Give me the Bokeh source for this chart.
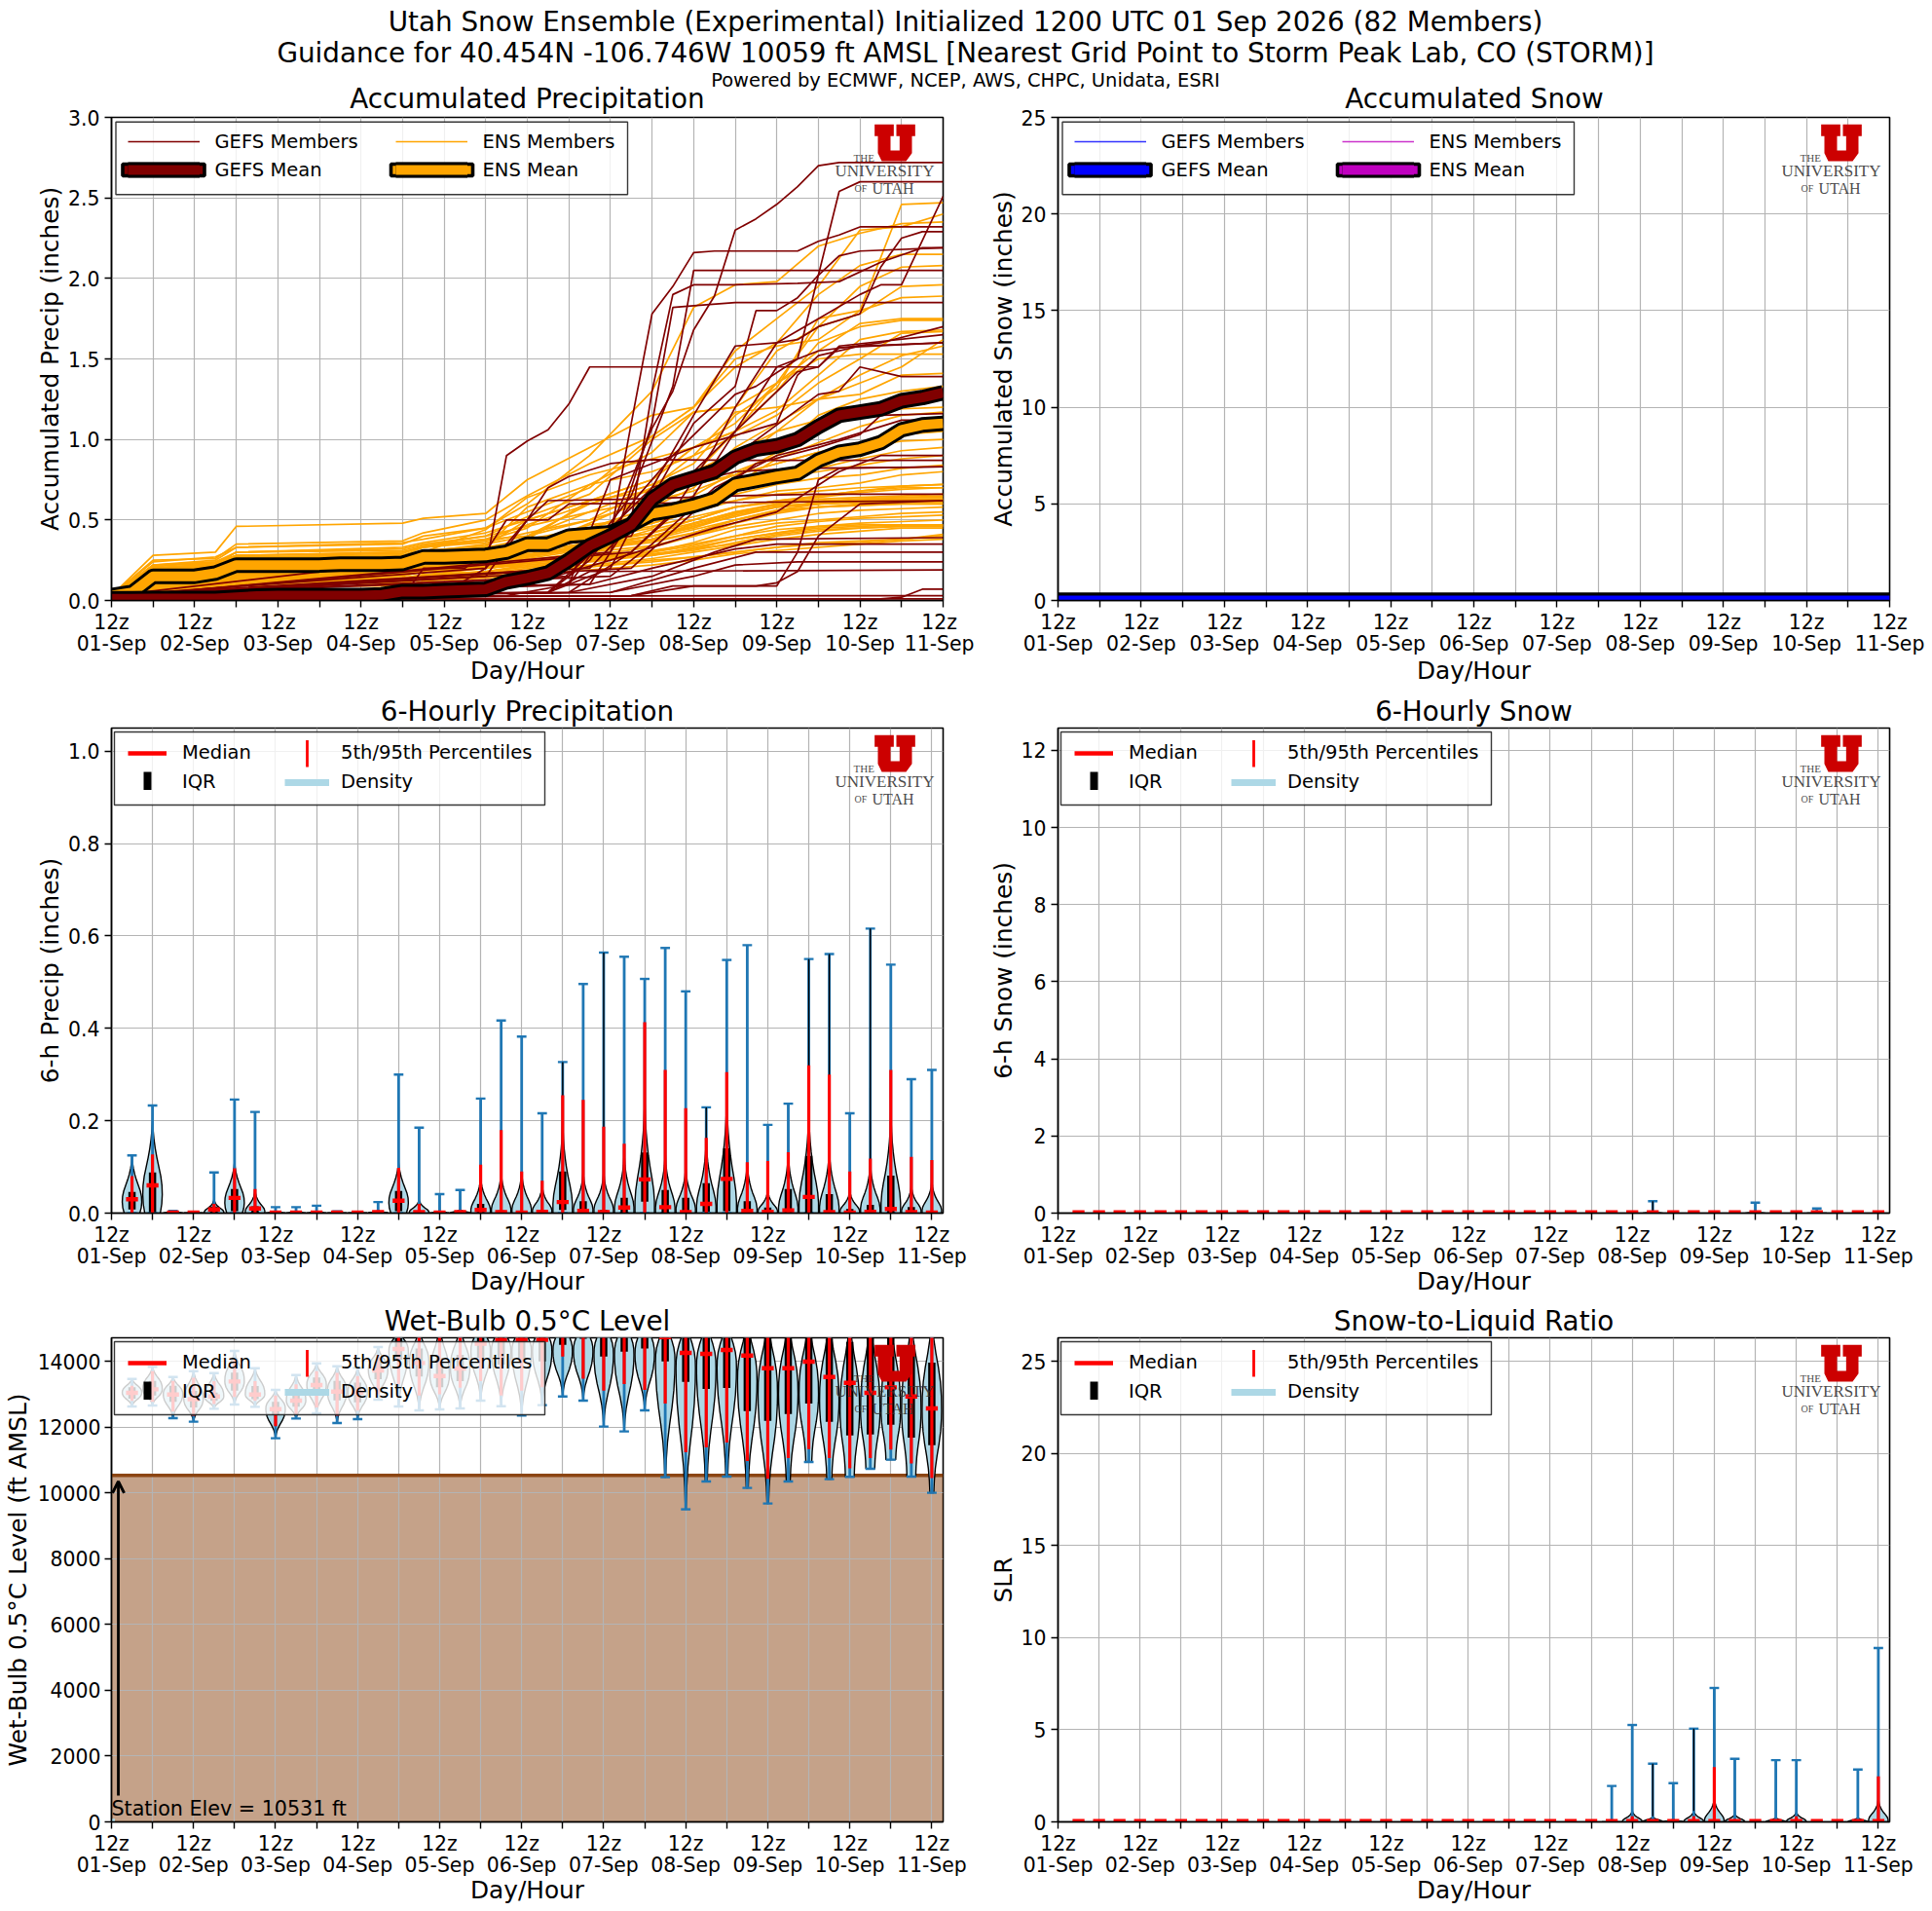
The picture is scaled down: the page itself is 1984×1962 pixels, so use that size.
from bokeh.plotting import figure
from bokeh.layouts import column, row
from bokeh.embed import file_html
from bokeh.resources import INLINE
from bokeh.models import (Range1d, FixedTicker, Label, Legend, LegendItem, BoxAnnotation, Title,
                          PolyAnnotation, Arrow, OpenHead, NumeralTickFormatter)

SUPTITLE_1 = "Utah Snow Ensemble (Experimental) Initialized 1200 UTC 01 Sep 2026 (82 Members)"
SUPTITLE_2 = "Guidance for 40.454N -106.746W 10059 ft AMSL [Nearest Grid Point to Storm Peak Lab, CO (STORM)]"
SUPTITLE_3 = "Powered by ECMWF, NCEP, AWS, CHPC, Unidata, ESRI"
DAY_LABELS = ["01-Sep", "02-Sep", "03-Sep", "04-Sep", "05-Sep", "06-Sep", "07-Sep", "08-Sep", "09-Sep", "10-Sep", "11-Sep"]

HOURS = [6 * i for i in range(41)]
V_HOURS = HOURS[1:]

GEFS_MEAN = [.01, .01, .012, .012, .012, .012, .02, .027, .03, .03, .03, .03, .03, .035, .055, .055, .06, .065, .07, .116, .14, .17,
             .25, .34, .40, .47, .63, .72, .76, .80, .89, .94, .96, 1.0, 1.08, 1.15, 1.17, 1.19, 1.24, 1.26, 1.29]
ENS_MEAN = [.03, .05, .15, .15, .15, .17, .22, .22, .22, .22, .22, .225, .225, .225, .23, .27, .27, .275, .28, .30, .35, .35,
            .40, .41, .42, .47, .54, .56, .59, .63, .72, .745, .77, .79, .87, .92, .94, .98, 1.06, 1.09, 1.10]

GEFS_MEMBERS = [
    [(0,.03),(36,.03),(96,.05),(108,.2),(114,.9),(120,.99),(126,1.06),(132,1.22),(138,1.45),(204,1.45),(210,1.57),(240,1.6)],
    [(0,.02),(114,.03),(132,.1),(144,.45),(150,.75),(156,1.07),(162,1.3),(168,1.68),(174,1.89),(180,2.3),(186,2.37),(192,2.46),(198,2.57),(204,2.7),(210,2.72),(240,2.72)],
    [(0,.02),(126,.05),(138,.25),(150,.6),(162,.9),(180,1.28),(186,1.33),(198,1.5),(204,2.02),(210,2.54),(216,2.6),(240,2.6)],
    [(0,.02),(132,.05),(150,.3),(162,.55),(174,.95),(180,1.2),(192,1.6),(204,1.75),(216,1.9),(222,1.96),(228,1.96),(240,2.51)],
    [(0,.02),(126,.05),(144,.2),(156,.7),(168,1.15),(180,1.58),(192,1.6),(198,1.62),(204,1.7),(216,1.78),(222,2.07),(228,2.25),(234,2.29),(240,2.29)],
    [(0,.02),(138,.1),(150,.5),(156,1.3),(162,1.9),(168,1.96),(180,1.96),(198,1.97),(210,1.98),(222,2.1),(234,2.19),(240,2.19)],
    [(0,.02),(126,.05),(144,.4),(150,1.1),(156,1.78),(162,1.95),(168,2.16),(174,2.17),(198,2.17),(204,2.23),(210,2.27),(216,2.32),(240,2.32)],
    [(0,.03),(132,.15),(150,.65),(162,1.33),(168,2.05),(240,2.05)],
    [(0,.02),(144,.3),(156,1.1),(162,1.82),(168,1.83),(180,1.85),(240,1.85)],
    [(0,.03),(150,.4),(168,1.1),(180,1.33),(186,1.8),(192,1.8),(198,1.88),(204,2.02),(210,2.14),(216,2.17),(240,2.19)],
    [(0,.03),(138,.2),(156,.6),(168,.8),(180,1.05),(192,1.45),(204,1.55),(222,1.6),(240,1.7)],
    [(0,.02),(150,.3),(168,.65),(180,1.05),(198,1.42),(204,1.45),(210,1.58),(240,1.65)],
    [(0,.03),(132,.2),(156,.7),(180,.9),(204,1.28),(210,1.3),(216,1.45),(228,1.39),(240,1.39)],
    [(0,.02),(132,.1),(144,.75),(168,.95),(192,1.1),(198,1.4),(204,1.52),(216,1.58),(240,1.6)],
    [(0,.02),(150,.2),(168,.55),(186,.85),(204,.95),(216,1.03),(222,1.15),(240,1.16)],
    [(0,.03),(144,.15),(156,.35),(174,.7),(192,.9),(210,1.0),(228,1.12),(240,1.12)],
    [(0,.03),(108,.2),(120,.5),(126,.7),(132,.77),(144,.85),(156,.875),(186,.87),(204,.87),(240,.87)],
    [(0,.02),(132,.2),(150,.45),(162,.7),(180,.8),(198,.82),(240,.83)],
    [(0,.02),(120,.1),(144,.25),(174,.45),(192,.55),(210,.8),(222,.9),(240,.9)],
    [(0,.03),(108,.15),(120,.5),(126,.62),(150,.63),(180,.65),(204,.66),(240,.66)],
    [(0,.02),(132,.05),(156,.15),(174,.3),(186,.38),(240,.39)],
    [(0,.02),(138,.1),(156,.2),(180,.32),(192,.35),(240,.35)],
    [(0,.03),(144,.05),(168,.2),(186,.3),(240,.3)],
    [(0,.02),(144,.05),(168,.15),(180,.22),(198,.24),(240,.24)],
    [(0,.02),(126,.05),(138,.18),(240,.19)],
    [(0,.0),(78,.0),(84,.02),(90,.2),(102,.2),(108,.3),(114,.5),(126,.5),(132,.6),(240,.62)],
    [(0,.01),(150,.03),(162,.09),(186,.09),(192,.11),(198,.18),(204,.4),(216,.6),(240,.62)],
    [(0,.01),(150,.03),(168,.09),(192,.09),(198,.3),(204,.75),(210,.82),(240,.83)],
    [(0,.01),(222,.01),(228,.02),(234,.07),(240,.07)],
    [(0,.01),(240,.01)],
    [(0,.02),(186,.03),(240,.03)],
]

ENS_HOURS = [0, 12, 30, 36, 84, 90, 108, 120, 138, 156, 168, 180, 192, 204, 216, 228, 240]
ENS_MEMBERS = [
    [.03,.28,.30,.46,.48,.51,.54,.75,.95,1.15,1.20,1.50,1.58,1.62,1.80,2.46,2.47],
    [.03,.25,.26,.35,.37,.42,.50,.65,.85,1.02,1.20,1.55,1.75,1.95,2.30,2.32,2.40],
    [.03,.24,.27,.33,.35,.40,.45,.60,.90,1.30,1.82,1.96,1.98,2.20,2.28,2.34,2.35],
    [.03,.22,.25,.33,.36,.38,.45,.55,.70,1.02,1.20,1.45,1.60,1.90,2.08,2.15,2.15],
    [.03,.22,.23,.30,.33,.36,.42,.50,.62,.75,.95,1.10,1.35,1.70,1.95,2.07,2.08],
    [.03,.20,.22,.30,.32,.35,.40,.52,.66,1.00,1.17,1.20,1.55,1.70,1.78,1.95,1.96],
    [.03,.19,.21,.28,.30,.33,.38,.47,.60,.72,.85,1.15,1.32,1.75,1.80,1.88,1.89],
    [.03,.18,.21,.26,.28,.33,.37,.45,.72,.92,1.17,1.20,1.35,1.55,1.72,1.75,1.75],
    [.03,.22,.24,.30,.31,.34,.38,.40,.55,.70,.78,1.05,1.30,1.60,1.70,1.74,1.74],
    [.03,.17,.20,.25,.27,.30,.44,.64,.78,.88,.95,1.05,1.18,1.40,1.62,1.67,1.68],
    [.03,.16,.19,.24,.26,.30,.35,.40,.50,.70,.90,1.02,1.15,1.35,1.50,1.66,1.67],
    [.03,.15,.18,.23,.25,.28,.33,.58,.72,.80,.90,1.17,1.20,1.25,1.35,1.45,1.62],
    [.03,.20,.23,.28,.29,.34,.40,.46,.55,.62,.72,.85,1.05,1.25,1.40,1.52,1.58],
    [.03,.14,.17,.22,.24,.26,.30,.38,.62,.75,.95,1.05,1.35,1.50,1.53,1.53,1.53],
    [.03,.13,.16,.21,.23,.25,.28,.35,.45,.58,.70,.95,1.10,1.25,1.28,1.40,1.41],
    [.03,.21,.24,.28,.30,.33,.36,.42,.50,.62,.68,.78,.92,1.15,1.25,1.30,1.33],
    [.03,.18,.21,.26,.27,.30,.33,.38,.45,.55,.65,.80,.90,1.05,1.18,1.24,1.25],
    [.03,.12,.15,.20,.21,.24,.27,.40,.60,.72,.80,.92,1.05,1.12,1.16,1.19,1.20],
    [.03,.16,.19,.24,.25,.27,.31,.36,.42,.50,.62,.72,.88,.98,1.08,1.15,1.17],
    [.03,.11,.14,.18,.19,.22,.26,.32,.48,.65,.72,.78,.85,.92,.98,1.03,1.05],
    [.03,.19,.22,.27,.28,.31,.34,.50,.62,.68,.72,.78,.85,.92,.95,.99,1.00],
    [.03,.15,.17,.22,.23,.25,.28,.34,.40,.48,.55,.68,.75,.82,.88,.93,.95],
    [.03,.10,.12,.16,.17,.20,.24,.30,.42,.55,.62,.70,.76,.80,.84,.88,.90],
    [.03,.14,.16,.20,.21,.23,.25,.30,.38,.45,.58,.66,.72,.76,.78,.82,.84],
    [.03,.17,.19,.23,.24,.26,.29,.33,.47,.52,.58,.62,.68,.70,.73,.78,.80],
    [.03,.09,.11,.15,.16,.19,.22,.27,.36,.48,.55,.62,.66,.68,.70,.71,.72],
    [.03,.12,.15,.19,.20,.22,.24,.28,.35,.42,.50,.58,.62,.65,.68,.71,.72],
    [.03,.20,.23,.27,.28,.30,.32,.36,.40,.46,.52,.58,.62,.64,.67,.69,.70],
    [.03,.13,.15,.19,.19,.21,.24,.28,.34,.40,.46,.54,.60,.65,.68,.70,.70],
    [.03,.11,.14,.18,.19,.21,.23,.27,.33,.44,.50,.58,.61,.63,.64,.65,.66],
    [.03,.15,.18,.21,.22,.24,.26,.30,.36,.42,.48,.55,.60,.62,.63,.64,.65],
    [.03,.08,.10,.14,.15,.18,.21,.24,.31,.38,.46,.52,.58,.61,.63,.64,.64],
    [.03,.10,.13,.17,.18,.20,.22,.26,.32,.36,.42,.50,.56,.60,.62,.63,.63],
    [.03,.17,.20,.23,.24,.26,.28,.31,.35,.40,.45,.53,.58,.60,.62,.63,.63],
    [.03,.12,.14,.18,.19,.21,.23,.27,.33,.40,.47,.54,.58,.60,.61,.62,.62],
    [.03,.07,.09,.12,.13,.16,.20,.24,.30,.38,.48,.55,.59,.60,.61,.62,.62],
    [.03,.14,.16,.20,.20,.22,.24,.28,.34,.38,.44,.50,.55,.58,.60,.61,.61],
    [.03,.09,.11,.15,.16,.18,.21,.25,.30,.34,.40,.48,.54,.58,.59,.60,.60],
    [.03,.16,.18,.21,.22,.24,.25,.29,.33,.37,.42,.50,.56,.58,.59,.60,.60],
    [.03,.10,.12,.15,.16,.18,.20,.23,.28,.33,.40,.46,.50,.54,.56,.57,.58],
    [.03,.06,.08,.11,.12,.15,.18,.22,.26,.30,.36,.44,.48,.50,.52,.54,.55],
    [.03,.11,.13,.16,.16,.18,.20,.23,.27,.31,.35,.40,.46,.49,.51,.52,.53],
    [.03,.08,.10,.13,.14,.16,.18,.21,.25,.28,.33,.38,.42,.46,.48,.49,.50],
    [.03,.13,.15,.18,.18,.20,.21,.24,.27,.30,.34,.40,.44,.46,.47,.47,.47],
    [.03,.05,.07,.10,.11,.14,.17,.20,.24,.28,.32,.38,.42,.45,.46,.47,.47],
    [.03,.09,.11,.14,.14,.16,.18,.21,.25,.28,.31,.36,.41,.44,.45,.46,.46],
    [.03,.12,.14,.16,.17,.18,.20,.22,.26,.29,.32,.35,.40,.43,.45,.46,.46],
    [.03,.07,.09,.12,.12,.14,.16,.19,.22,.26,.30,.34,.38,.41,.43,.45,.45],
    [.03,.06,.08,.10,.11,.13,.15,.17,.21,.24,.27,.30,.33,.35,.36,.38,.41],
    [.03,.10,.11,.13,.13,.15,.16,.18,.21,.25,.27,.30,.33,.36,.37,.38,.40],
    [.03,.05,.06,.09,.09,.12,.14,.16,.19,.22,.25,.29,.31,.33,.35,.37,.38],
]

# 6-hourly precipitation, read per forecast hour
PR_MAX = [.125,.233,.005,.003,.088,.246,.219,.013,.013,.016,.004,.003,.024,.30,.185,.041,.05,.248,.417,.382,
          .216,.327,.496,.564,.555,.507,.574,.48,.229,.548,.58,.191,.237,.55,.561,.216,.616,.538,.29,.31]
PR_P95 = [.08,.127,.002,.001,.02,.097,.052,.002,.002,.003,.001,.001,.004,.098,.02,.002,.005,.105,.18,.09,
          .07,.255,.245,.187,.15,.413,.31,.227,.163,.305,.11,.113,.132,.32,.30,.09,.118,.31,.122,.115]
PR_MED = [.03,.06,.001,.001,.008,.033,.01,.001,.001,.001,.001,.001,.002,.027,.002,.001,.002,.007,.002,.001,
          .003,.024,.005,.002,.012,.073,.013,.002,.02,.074,.005,.003,.006,.035,.002,.001,.003,.009,.002,.001]
PR_Q3 = [.046,.088,.001,.001,.014,.052,.015,.001,.001,.001,.001,.001,.002,.048,.005,.001,.002,.02,.006,.002,
         .006,.09,.026,.007,.033,.131,.05,.033,.065,.14,.026,.012,.052,.124,.041,.009,.018,.081,.013,.002]
PR_Q1 = [.008,.002,0,0,.001,.004,.001,0,0,0,0,0,0,.004,0,0,0,0,0,0,
         0,.007,0,0,0,.025,0,0,.003,.004,0,0,0,.001,0,0,0,0,0,0]
PR_BODY = [.12,.20,.004,.002,.03,.11,.05,.003,.003,.003,.002,.002,.006,.11,.03,.003,.008,.08,.09,.09,
           .06,.20,.09,.09,.13,.25,.13,.10,.16,.25,.11,.05,.13,.22,.14,.05,.11,.22,.06,.07]
PR_BULGE = [6, 12, 36, 84]
PR_BLACK_NECK = [132, 144, 174, 204, 210, 222]

# 6-hourly snow
SN_MAX = [0]*28 + [.31] + [0]*4 + [.27] + [0]*2 + [.12] + [0]*3 + [.33]
SN_ZERO = [0]*40
SN_BODY = [0]*28 + [.02] + [0]*4 + [.02] + [0]*2 + [.01] + [0]*3 + [.02]

# Wet-bulb level
WB_MAX = [13466,13830,13525,13700,13643,14314,13791,13130,13584,13939,13850,13800,14432,15000,15000,15100,15100,15200,15200,15200,
          15300,15300,15300,15400,15400,15400,15400,15400,15400,15400,15400,15400,15400,15400,15400,15400,15400,15400,15400,15400]
WB_P95 = [13258,13700,13406,13500,13400,14047,13400,12963,13300,13700,13650,13550,14200,14800,14800,14900,14900,15000,15000,15000,
          15100,15100,15100,15200,15200,15200,15200,15200,15200,15200,15200,15200,15200,15200,15200,15200,15200,15200,15200,15200]
WB_Q3 = [13209,13406,13258,13100,13050,13653,13250,12765,12963,13505,13406,13350,14000,14700,14388,14097,14200,14900,15000,15000,
         15000,15000,15000,15000,15000,15000,15000,15000,15000,15000,15000,15000,15000,15000,14688,14590,15000,15000,14491,13959]
WB_MED = [13042,13150,12992,12848,12933,13387,12992,12548,12805,13278,13081,13050,13722,14373,13950,13554,13782,14533,14650,14655,
          14655,14900,15000,14900,14900,14900,14738,14255,14225,14343,14176,13791,13791,13988,13525,13347,13042,13209,12933,12568]
WB_Q1 = [12864,12963,12765,12600,12800,13110,12850,12371,12617,13061,12815,12750,13456,14050,13539,13209,13400,14100,13900,14000,
         14000,14500,14688,14146,14294,14393,14000,13377,13160,13190,12489,12193,12401,12716,12164,11750,11779,12075,11681,11454]
WB_P5 = [12795,12765,12470,12350,12700,12913,12800,12026,12400,12600,12350,12500,13000,13300,12963,13000,13200,13400,12963,13110,
         13209,14146,13475,13111,13308,13130,12716,11237,11385,11533,10971,10428,11059,11336,11059,10744,11059,11316,10892,10448]
WB_MIN = [12627,12657,12272,12164,12558,12686,12617,11661,12262,12420,12124,12243,12834,12627,12509,12539,12568,12805,12637,12351,
          12667,12933,12805,12016,11868,12509,10477,9501,10349,10497,10152,9679,10349,10941,10418,10487,10734,11010,10497,10004]
WB_PEAK = [13042,13150,12992,12848,12933,13387,12992,12548,12805,13278,13081,13050,13722,14300,13950,13554,13782,14300,14300,14300,
           14300,14300,14300,14200,14200,14200,14000,13800,13800,13800,13400,13000,13000,13000,12800,12500,12500,12500,12500,12500]
WB_BASE = [0]*26 + [.04,.03,.1,.1,.1,.08,.2,.3,.25,.45,.45,.5,.45,.2]
STATION_ELEV = 10531

# Snow-to-liquid ratio
SLR_MAX = [0]*26 + [1.95,5.26,3.16,2.1,5.06,7.27,3.42,.05,3.35,3.35,.05,.05,2.84,9.44]
SLR_P95 = [0]*26 + [.05,.3,.1,.05,.3,2.97,.15,0,.1,.3,0,0,.1,2.47]
SLR_BODY = [0]*26 + [.03,.6,.3,.15,.6,1.3,.45,0,.25,.55,0,0,.25,1.25]
SLR_BLACK_NECK = [174, 186]

# outline shapes for the violin bodies: share of the height, share of the half width
TAPER_T = [0, .1, .2, .3, .4, .5, .6, .7, .8, .9, 1]
TAPER_W = [1, 1, .92, .75, .55, .38, .25, .15, .08, .04, .01]
BULGE_W = [.8, .95, 1, .97, .85, .65, .45, .28, .15, .06, .01]
SPIN_T = [0, .15, .3, .45, .6, .75, .9, 1]
SPIN_W = [0, .07, .2, .42, .68, .88, .98, 1]

BLACK = "black"
GEFS_C, ENS_C = "#800000", "orange"
SNOW_G, SNOW_E = "#0000ff", "#bf00bf"
BLUE, RED, LBLUE = "#1f77b4", "red", "#add8e6"
GRID = "#b4b4b4"
TICK_PX, LAB_PX, TITLE_PX, LEG_PX = "20.4px", "24.8px", "27.8px", "19.5px"
FONT = "DejaVu Sans"
FW = 854
HALF = 2.85

def ticks():
    ov = {}
    for i, h in enumerate(range(0, 241, 12)):
        ov[h] = "12z\n" + DAY_LABELS[i // 2] if i % 2 == 0 else ""
    return list(range(0, 241, 12)), ov

def panel(ylabel, xmax, ymax, yticks, left, right, top, fh, bottom, fmt=None, y_standoff=1, title=None, x_standoff=-4):
    p = figure(frame_width=FW, frame_height=fh, x_range=Range1d(0, xmax), y_range=Range1d(0, ymax),
               toolbar_location=None, output_backend="svg", min_border_left=left, min_border_right=right,
               min_border_top=top, min_border_bottom=bottom)
    if title:
        p.title = Title(text=title, align="center", text_font=FONT, text_font_size=TITLE_PX, text_font_style="normal",
                        text_color=BLACK, standoff=1)
    t, ov = ticks()
    xa, ya = p.xaxis[0], p.yaxis[0]
    xa.ticker = FixedTicker(ticks=t)
    xa.major_label_overrides = ov
    xa.major_label_text_line_height = 0.92
    ya.ticker = FixedTicker(ticks=yticks)
    if fmt:
        ya.formatter = NumeralTickFormatter(format=fmt)
    xa.axis_label = "Day/Hour"
    ya.axis_label = ylabel
    for a in (xa, ya):
        a.axis_label_text_font = FONT
        a.axis_label_text_font_size = LAB_PX
        a.axis_label_text_font_style = "normal"
        a.axis_label_text_color = BLACK
        a.major_label_text_font = FONT
        a.major_label_text_font_size = TICK_PX
        a.major_label_text_color = BLACK
        a.major_tick_line_color = BLACK
        a.major_tick_line_width = 1.4
        a.major_tick_out = 7
        a.major_tick_in = 0
        a.minor_tick_line_color = None
        a.axis_line_color = BLACK
        a.axis_line_width = 1.4
        a.major_label_standoff = 5
    xa.major_label_standoff = 3
    ya.axis_label_standoff = y_standoff
    xa.axis_label_standoff = x_standoff
    p.xgrid.ticker = FixedTicker(ticks=t)
    p.ygrid.ticker = FixedTicker(ticks=yticks)
    for g in (p.xgrid[0], p.ygrid[0]):
        g.grid_line_color = GRID
        g.grid_line_width = 1.2
    p.outline_line_color = BLACK
    p.outline_line_width = 1.6
    p.background_fill_color = "white"
    p.border_fill_color = "white"
    p._left, p._top = left, top
    return p

def canvas_box(p, l, r, t, b, **kw):
    L, T = p._left, p._top
    p.add_layout(BoxAnnotation(left=L + l, right=L + r, top=T + t, bottom=T + b,
                               left_units="canvas", right_units="canvas", top_units="canvas", bottom_units="canvas", **kw))

def legend_box(p, x0, y0, x1, y1):
    canvas_box(p, x0, x1, y0, y1, fill_color="white", fill_alpha=.8, line_color="#222222", line_alpha=.9, line_width=1.4)

def make_legend(p, x, y_top, rows, glyph_w, standoff, pitch, fh):
    lg = Legend(items=[LegendItem(label=t, renderers=r) for t, r in rows], location=(x, fh - y_top - 24 - pitch),
                padding=0, margin=0, spacing=int(round(pitch - 24)), glyph_width=glyph_w, glyph_height=24, label_height=24,
                label_standoff=standoff, background_fill_alpha=0, border_line_color=None,
                label_text_font=FONT, label_text_font_size=LEG_PX, label_text_color=BLACK, click_policy="none")
    p.add_layout(lg)

def logo(p):
    L, T = p._left, p._top
    ux = [173, 232, 232, 222, 222, 250, 250, 240, 240, 298, 298, 288, 288, 270, 195, 183, 183, 173]
    uy = [52, 52, 88, 88, 132, 132, 88, 88, 52, 52, 88, 88, 140, 165, 165, 140, 88, 88]
    p.add_layout(PolyAnnotation(xs=[L + 726 + v / 3 for v in ux], ys=[T - 10 + v / 3 for v in uy],
                                xs_units="canvas", ys_units="canvas", fill_color="#cc0000", fill_alpha=1, line_color=None))
    for txt, dx, dy, sz in [("THE", 762, 41.5, 11), ("UNIVERSITY", 743, 55, 17), ("OF", 763, 73, 10), ("UTAH", 781, 72.5, 16)]:
        p.add_layout(Label(x=L + dx, y=T + dy, x_units="canvas", y_units="canvas", text=txt, text_font="Liberation Serif",
                           text_font_size="%dpx" % sz, text_color="#333333", text_alpha=.9, text_baseline="alphabetic"))

def member_panel(ylabel, ymax, yticks, left, right, top, fh, bottom, gc, ec, draw_members, means, fmt=None):
    p = panel(ylabel, 240, ymax, yticks, left, right, top, fh, bottom, fmt, x_standoff=-2)
    p.border_fill_alpha = 0
    gl, el = draw_members(p)
    e_b = p.line(HOURS, means[1], line_color=BLACK, line_width=16, line_join="round")
    e_c = p.line(HOURS, means[1], line_color=ec, line_width=10, line_join="round")
    g_b = p.line(HOURS, means[0], line_color=BLACK, line_width=16, line_join="round")
    g_c = p.line(HOURS, means[0], line_color=gc, line_width=10, line_join="round")
    legend_box(p, 4.5, 4.7, 530, 79.3)
    make_legend(p, 16.5, 13.7, [("GEFS Members", [gl]), ("GEFS Mean", [g_b, g_c])], 74, 16, 28.7, fh)
    make_legend(p, 291.5, 13.7, [("ENS Members", [el]), ("ENS Mean", [e_b, e_c])], 74, 16, 28.7, fh)
    canvas_box(p, 11.5, 95.5, 48, 60, fill_color=gc, fill_alpha=1, line_color=BLACK, line_alpha=1, line_width=3.6)
    canvas_box(p, 287, 371, 48, 60, fill_color=ec, fill_alpha=1, line_color=BLACK, line_alpha=1, line_width=3.6)
    logo(p)
    return p

def draw_precip_members(p):
    el = None
    for r in ENS_MEMBERS:
        el = p.line(ENS_HOURS, r, line_color=ENS_C, line_width=1.7)
    gl = None
    for m in GEFS_MEMBERS:
        gl = p.line([k[0] for k in m], [k[1] for k in m], line_color=GEFS_C, line_width=1.7)
    return gl, el

def draw_snow_members(p):
    zero = [0] * 41
    el = p.line(HOURS, zero, line_color=SNOW_E, line_alpha=.8, line_width=1.7)
    gl = p.line(HOURS, zero, line_color=SNOW_G, line_alpha=.8, line_width=1.7)
    return gl, el

def violin_legend(p, fh):
    legend_box(p, 3, 4, 445, 79)
    med = p.line([0, 1], [-9, -9], line_color=RED, line_width=4.6)
    dens = p.line([0, 1], [-9, -9], line_color=LBLUE, line_width=7)
    iqr = p.line([0, 1], [-9, -9], line_alpha=0)
    pct = p.line([0, 1], [-9, -9], line_alpha=0)
    make_legend(p, 17, 14, [("Median", [med]), ("IQR", [iqr])], 40, 16, 29.6, fh)
    make_legend(p, 178, 14, [("5th/95th Percentiles", [pct]), ("Density", [dens])], 46, 12, 29.6, fh)
    canvas_box(p, 33, 41, 45, 63.5, fill_color=BLACK, fill_alpha=1, line_color=None)
    canvas_box(p, 199.6, 202.4, 12.5, 40, fill_color=RED, fill_alpha=1, line_color=None)

def bodies(p, xs, ys):
    if xs:
        p.patches(xs, ys, fill_color=LBLUE, fill_alpha=1, line_color=BLACK, line_width=1.4)

def marks(p, mn, p5, q1, med, q3, p95, mx, necks=(), neck_lo=None, med_w=4.4):
    cap = 1.4
    p.segment(V_HOURS, mn, V_HOURS, mx, line_color=BLUE, line_width=2.8)
    for arr in (mn, mx):
        p.segment([h - cap for h in V_HOURS], arr, [h + cap for h in V_HOURS], arr, line_color=BLUE, line_width=2.4)
    if necks:
        nh = [h for h in V_HOURS if h in necks]
        p.segment(nh, [neck_lo[V_HOURS.index(h)] for h in nh], nh, [mx[V_HOURS.index(h)] for h in nh], line_color=BLACK, line_width=1.3)
    p.segment(V_HOURS, q1, V_HOURS, q3, line_color=BLACK, line_width=7.5)
    p.segment(V_HOURS, p5, V_HOURS, p95, line_color=RED, line_width=3.2)
    d = 1.75
    p.segment([h - d for h in V_HOURS], med, [h + d for h in V_HOURS], med, line_color=RED, line_width=med_w)

def taper_bodies(p, tops, maxes, bulge=()):
    xs, ys = [], []
    for h, top, mx in zip(V_HOURS, tops, maxes):
        if top <= 0:
            continue
        w = BULGE_W if h in bulge else TAPER_W
        xs.append([h - HALF * v for v in w] + [h] + [h + HALF * v for v in reversed(w)])
        yy = [top * t for t in TAPER_T]
        ys.append(yy + [mx] + list(reversed(yy)))
    bodies(p, xs, ys)

def wb_bodies(p):
    xs, ys = [], []
    for h, lo, pk, hi, b in zip(V_HOURS, WB_MIN, WB_PEAK, WB_MAX, WB_BASE):
        low_w = [b + (1 - b) * v for v in SPIN_W]
        up_y = [pk + (hi - pk) * t for t in SPIN_T[1:]]
        up_w = [SPIN_W[len(SPIN_W) - 2 - i] for i in range(len(SPIN_W) - 1)]
        yy = [lo + (pk - lo) * t for t in SPIN_T] + up_y
        ww = low_w + up_w
        xs.append([h - HALF * v for v in ww] + [h + HALF * v for v in reversed(ww)])
        ys.append(yy + list(reversed(yy)))
    bodies(p, xs, ys)

XV = 243.3
LEFT_A, LEFT_B = 114, 86
RIGHT_A, RIGHT_B = 32, 44

# Row 1 (its figures start 14 px higher, over the bottom of the header)
p1 = member_panel("Accumulated Precip (inches)", 3.0, [0, .5, 1, 1.5, 2, 2.5, 3], LEFT_A, RIGHT_A, 16, 496, 87, GEFS_C, ENS_C,
                  draw_precip_members, (GEFS_MEAN, ENS_MEAN), "0.0")
p2 = member_panel("Accumulated Snow (inches)", 25, [0, 5, 10, 15, 20, 25], LEFT_B, RIGHT_B, 16, 496, 87, SNOW_G, SNOW_E,
                  draw_snow_members, ([0] * 41, [0] * 41))

# Row 2
p3 = panel("6-h Precip (inches)", XV, 1.05, [0, .2, .4, .6, .8, 1.0], LEFT_A, RIGHT_A, 42, 498, 86, "0.0", title="6-Hourly Precipitation")
taper_bodies(p3, PR_BODY, PR_MAX, PR_BULGE)
marks(p3, [0] * 40, [0] * 40, PR_Q1, PR_MED, PR_Q3, PR_P95, PR_MAX, PR_BLACK_NECK, PR_BODY)
violin_legend(p3, 498)
logo(p3)

p4 = panel("6-h Snow (inches)", XV, 12.58, [0, 2, 4, 6, 8, 10, 12], LEFT_B, RIGHT_B, 42, 498, 86, title="6-Hourly Snow")
taper_bodies(p4, SN_BODY, SN_MAX)
marks(p4, SN_ZERO, SN_ZERO, SN_ZERO, SN_ZERO, SN_ZERO, SN_ZERO, SN_MAX, [174, 240], SN_BODY, med_w=6)
violin_legend(p4, 498)
logo(p4)

# Row 3
p5 = panel("Wet-Bulb 0.5\u00b0C Level (ft AMSL)", XV, 14715, list(range(0, 14001, 2000)), LEFT_A, RIGHT_A, 41, 497, 80, y_standoff=3,
           title="Wet-Bulb 0.5\u00b0C Level")
p5.yaxis[0].major_label_standoff = 4
p5.varea([0, XV], [0, 0], [STATION_ELEV, STATION_ELEV], fill_color="#8b4513", fill_alpha=.5, level="image")
p5.line([0, XV], [STATION_ELEV, STATION_ELEV], line_color="#8b4513", line_width=3.4)
wb_bodies(p5)
marks(p5, WB_MIN, WB_P5, WB_Q1, WB_MED, WB_Q3, WB_P95, WB_MAX)
p5.add_layout(Arrow(end=OpenHead(size=12, line_width=3, line_color=BLACK), x_start=2, y_start=800, x_end=2, y_end=10350,
                    line_width=2.8, line_color=BLACK))
p5.add_layout(Label(x=0, y=50, text="Station Elev = %d ft" % STATION_ELEV, text_font=FONT, text_font_size="20.67px", text_color=BLACK))
violin_legend(p5, 497)
logo(p5)

p6 = panel("SLR", XV, 26.28, [0, 5, 10, 15, 20, 25], LEFT_B, RIGHT_B, 41, 497, 80, title="Snow-to-Liquid Ratio")
taper_bodies(p6, SLR_BODY, SLR_MAX)
marks(p6, SN_ZERO, SN_ZERO, SN_ZERO, SN_ZERO, SN_ZERO, SLR_P95, SLR_MAX, SLR_BLACK_NECK, SLR_BODY, med_w=6)
violin_legend(p6, 497)
logo(p6)

# Header with the page titles and the two titles of the first row
head = figure(width=1984, height=118, x_range=Range1d(0, 1), y_range=Range1d(0, 1), toolbar_location=None, output_backend="svg",
              x_axis_type=None, y_axis_type=None, min_border=0, outline_line_color=None)
head.grid.visible = False
for txt, x, y, sz in [(SUPTITLE_1, 991, 22, TITLE_PX), (SUPTITLE_2, 991, 53.5, TITLE_PX), (SUPTITLE_3, 991, 82, "19.44px"),
                      ("Accumulated Precipitation", 541, 101, TITLE_PX), ("Accumulated Snow", 1513.5, 101, TITLE_PX)]:
    head.add_layout(Label(x=x, y=y, x_units="canvas", y_units="canvas", text=txt, text_font=FONT, text_font_size=sz,
                          text_align="center", text_baseline="alphabetic", text_color=BLACK))

page = column(head, row(p1, p2, margin=(-14, 0, 0, 0)), row(p3, p4), row(p5, p6), spacing=0)
open("out.html", "w").write(file_html(page, INLINE))
